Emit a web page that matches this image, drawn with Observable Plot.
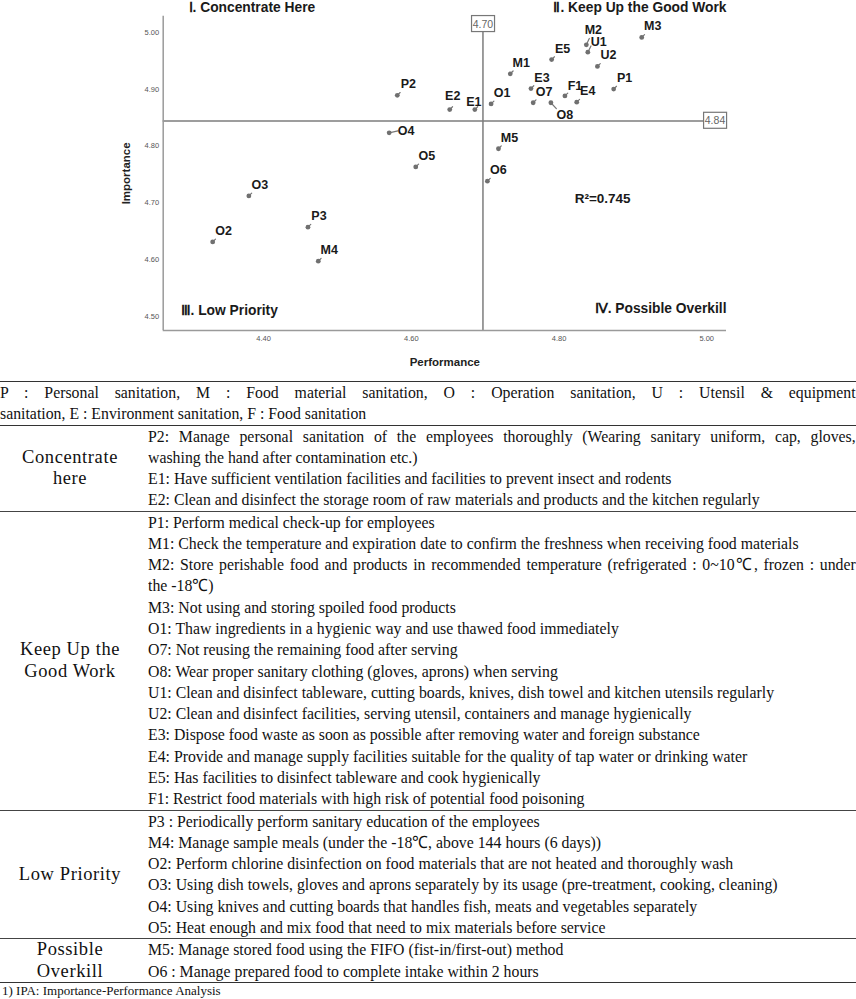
<!DOCTYPE html>
<html>
<head>
<meta charset="utf-8">
<script src="https://cdn.jsdelivr.net/npm/d3@7"></script>
<script src="https://cdn.jsdelivr.net/npm/@observablehq/plot@0.6"></script>
<style>
  html, body { margin: 0; padding: 0; background: #fff; overflow: hidden; }
  #chart svg { display: block; }
  #tbl { width: 856px; margin-top: 9px; font-family: "Liberation Serif", "Times New Roman", serif; font-size: 17px; line-height: 21.28px; color: #111; border-top: 1.5px solid #333; }
  .legend { padding: 1px 0 0.5px; line-height: 20.5px; border-bottom: 1px solid #333; overflow: hidden; }
  .legend .sx { width: 920px; transform: scaleX(0.93); transform-origin: 0 0; }
  .just { text-align: justify; text-align-last: justify; }
  .grp { display: flex; border-bottom: 1px solid #444; overflow: hidden; }
  .grp.last { border-bottom: 1.5px solid #333; }
  .cat { width: 140px; flex: none; display: flex; align-items: center; justify-content: center; text-align: center; font-size: 18.5px; line-height: 21.28px; letter-spacing: 0.6px; }
  .items { width: 708px; flex: none; margin-left: 8px; }
  .items .sx { width: 761px; transform: scaleX(0.93); transform-origin: 0 0; }
  .foot { font-size: 13px; line-height: 14px; padding-left: 2px; padding-top: 1px; }
</style>
</head>
<body>
<div id="chart"></div>
<div id="tbl"></div>
<script>
// ---- chart data ----
const codes       = ["P1","P2","P3","M1","M2","M3","M4","M5","O1","O2","O3","O4","O5","O6","O7","O8","U1","U2","E1","E2","E3","E4","E5","F1"];
const performance = [4.874,4.581,4.460,4.734,4.837,4.912,4.474,4.718,4.708,4.331,4.380,4.570,4.606,4.703,4.765,4.789,4.839,4.852,4.686,4.652,4.762,4.824,4.790,4.808];
const importance  = [4.900,4.889,4.657,4.927,4.978,4.991,4.597,4.795,4.874,4.631,4.712,4.823,4.763,4.738,4.876,4.876,4.965,4.940,4.864,4.864,4.901,4.877,4.952,4.888];
const meanPerformance = 4.697;
const meanImportance = 4.844;
const meanPerformanceLabel = "4.70";
const meanImportanceLabel = "4.84";
const xTicks = [4.40, 4.60, 4.80, 5.00];
const yTicks = [4.50, 4.60, 4.70, 4.80, 4.90, 5.00];
const quadrantTitles = ["Ⅰ. Concentrate Here", "Ⅱ. Keep Up the Good Work", "Ⅲ. Low Priority", "Ⅳ. Possible Overkill"];
const rSquaredText = "R²=0.745";
const rSquaredPos = [4.859, 4.707];
const xTitle = "Performance";
const yTitle = "Importance";

// ---- table data ----
const legendLines = [
  "P : Personal sanitation, M : Food material sanitation, O : Operation sanitation, U : Utensil & equipment",
  "sanitation, E : Environment sanitation, F : Food sanitation"
];
const groupNames = [["Concentrate","here"], ["Keep Up the","Good Work"], ["Low Priority"], ["Possible","Overkill"]];
const concentrateItems = [
  ["P2: Manage personal sanitation of the employees thoroughly (Wearing sanitary uniform, cap, gloves,", "washing the hand after contamination etc.)"],
  ["E1: Have sufficient ventilation facilities and facilities to prevent insect and rodents"],
  ["E2: Clean and disinfect the storage room of raw materials and products and the kitchen regularly"]
];
const keepUpItems = [
  ["P1: Perform medical check-up for employees"],
  ["M1: Check the temperature and expiration date to confirm the freshness when receiving food materials"],
  ["M2: Store perishable food and products in recommended temperature (refrigerated : 0~10℃, frozen : under", "the -18℃)"],
  ["M3: Not using and storing spoiled food products"],
  ["O1: Thaw ingredients in a hygienic way and use thawed food immediately"],
  ["O7: Not reusing the remaining food after serving"],
  ["O8: Wear proper sanitary clothing (gloves, aprons) when serving"],
  ["U1: Clean and disinfect tableware, cutting boards, knives, dish towel and kitchen utensils regularly"],
  ["U2: Clean and disinfect facilities, serving utensil, containers and manage hygienically"],
  ["E3: Dispose food waste as soon as possible after removing water and foreign substance"],
  ["E4: Provide and manage supply facilities suitable for the quality of tap water or drinking water"],
  ["E5: Has facilities to disinfect tableware and cook hygienically"],
  ["F1: Restrict food materials with high risk of potential food poisoning"]
];
const lowPriorityItems = [
  ["P3 : Periodically perform sanitary education of the employees"],
  ["M4: Manage sample meals (under the -18℃, above 144 hours (6 days))"],
  ["O2: Perform chlorine disinfection on food materials that are not heated and thoroughly wash"],
  ["O3: Using dish towels, gloves and aprons separately by its usage (pre-treatment, cooking, cleaning)"],
  ["O4: Using knives and cutting boards that handles fish, meats and vegetables separately"],
  ["O5: Heat enough and mix food that need to mix materials before service"]
];
const overkillItems = [
  ["M5: Manage stored food using the FIFO (fist-in/first-out) method"],
  ["O6 : Manage prepared food to complete intake within 2 hours"]
];
const footnote = "1) IPA: Importance-Performance Analysis";

// ---- build chart ----
const rows = codes.map((c, i) => ({code: c, perf: performance[i], imp: importance[i]}));
const xDomain = [4.264, 5.0268];
const yDomain = [4.475, 5.0284];

const labelNudge = {E2: [3, -14], E1: [-1, -8], O4: [17, -2], M2: [7, -15], O8: [14, 12], F1: [10, -10], U1: [11, -10]};
const defaultNudge = [11, -11];
const leaderSpec = {O4: [9, 77], U1: [7, 27], O8: [8, 137], M2: [7, 25]};
const leader = {draw(ctx, l) { ctx.moveTo(0, 0); ctx.lineTo(0, -l); }};

const nudgeGroups = d3.groups(rows, d => (labelNudge[d.code] || defaultNudge).join(","));
const labelMarks = nudgeGroups.map(([key, arr]) => {
  const [dx, dy] = key.split(",").map(Number);
  return Plot.text(arr, {x: "perf", y: "imp", text: "code", dx, dy, textAnchor: "middle", lineAnchor: "middle",
    fontSize: 12.5, fontWeight: "bold", fill: "#1a1a1a", fontFamily: "Liberation Sans, Arial, sans-serif"});
});
const leaderMarks = rows.map(d => {
  const [len, rot] = leaderSpec[d.code] || [4, 45];
  return Plot.vector([d], {x: "perf", y: "imp", length: len, rotate: rot, anchor: "start", shape: leader, stroke: "#777", strokeWidth: 1.2});
});

const titleFont = {fontSize: 13.8, fontWeight: "bold", fill: "#1a1a1a", fontFamily: "Liberation Sans, Arial, sans-serif", lineAnchor: "middle"};
const boxFont = 10.5;

const chart = Plot.plot({
  width: 856, height: 372,
  marginLeft: 162.7, marginRight: 130, marginTop: 15.7, marginBottom: 42,
  x: {domain: xDomain},
  y: {domain: yDomain},
  style: {fontFamily: "Liberation Sans, Arial, sans-serif", background: "#fff"},
  marks: [
    Plot.axisX({ticks: xTicks, tickFormat: d3.format(".2f"), tickSize: 0, tickPadding: 5, fontSize: 7.5, fill: "#555", label: null}),
    Plot.axisY({ticks: yTicks, tickFormat: d3.format(".2f"), tickSize: 0, tickPadding: 4, fontSize: 7.5, fill: "#555", label: null}),
    Plot.ruleX([meanPerformance], {stroke: "#7d7d7d", strokeWidth: 1.5}),
    Plot.ruleY([meanImportance], {stroke: "#7d7d7d", strokeWidth: 1.5}),
    Plot.ruleX([xDomain[0]], {stroke: "#9a9a9a", strokeWidth: 1.5}),
    Plot.ruleY([yDomain[0]], {stroke: "#9a9a9a", strokeWidth: 1.5}),
    ...leaderMarks,
    Plot.dot(rows, {x: "perf", y: "imp", r: 2.4, fill: "#707070"}),
    ...labelMarks,
    Plot.text([meanPerformanceLabel], {x: () => meanPerformance, text: d => d, frameAnchor: "top", dy: 8, textAnchor: "middle", lineAnchor: "middle", fontSize: boxFont, fill: "#666", className: "mean-box"}),
    Plot.text([meanImportanceLabel], {y: () => meanImportance, text: d => d, frameAnchor: "right", dx: -11.5, textAnchor: "middle", lineAnchor: "middle", fontSize: boxFont, fill: "#666", className: "mean-box"}),
    Plot.text([quadrantTitles[0]], {text: d => d, frameAnchor: "top-left", dx: 25.3, dy: -8.7, textAnchor: "start", ...titleFont}),
    Plot.text([quadrantTitles[1]], {text: d => d, frameAnchor: "top-right", dx: 0, dy: -8.7, textAnchor: "end", ...titleFont}),
    Plot.text([quadrantTitles[2]], {text: d => d, frameAnchor: "bottom-left", dx: 17.3, dy: -20, textAnchor: "start", ...titleFont}),
    Plot.text([quadrantTitles[3]], {text: d => d, frameAnchor: "bottom-right", dx: 0, dy: -22, textAnchor: "end", ...titleFont}),
    Plot.text([rSquaredText], {x: () => rSquaredPos[0], y: () => rSquaredPos[1], text: d => d, textAnchor: "middle", ...titleFont, fontSize: 13.5}),
    Plot.text([yTitle], {text: d => d, frameAnchor: "left", dx: -36.7, rotate: -90, textAnchor: "middle", lineAnchor: "middle", fontSize: 11.5, fontWeight: "bold", fill: "#222"}),
    Plot.text([xTitle], {text: d => d, frameAnchor: "bottom", dy: 31.7, textAnchor: "middle", lineAnchor: "middle", fontSize: 11.5, fontWeight: "bold", fill: "#222"})
  ]
});
document.getElementById("chart").appendChild(chart);

// boxes around mean labels
let boxTexts = chart.querySelectorAll("g.mean-box text");
if (!boxTexts.length) boxTexts = chart.querySelectorAll(`g[font-size="${boxFont}"] text`);
boxTexts.forEach(t => {
  const b = t.getBBox();
  const w = 23, h = 16;
  const r = document.createElementNS("http://www.w3.org/2000/svg", "rect");
  r.setAttribute("x", b.x + b.width / 2 - w / 2);
  r.setAttribute("y", b.y + b.height / 2 - h / 2);
  r.setAttribute("width", w);
  r.setAttribute("height", h);
  r.setAttribute("fill", "#fff");
  r.setAttribute("stroke", "#777");
  r.setAttribute("stroke-width", "1.2");
  if (t.getAttribute("transform")) r.setAttribute("transform", t.getAttribute("transform"));
  t.parentNode.insertBefore(r, t);
});

// ---- build table ----
const tbl = document.getElementById("tbl");
const esc = s => s.replace(/&/g, "&amp;").replace(/</g, "&lt;");
const linesHTML = lines => lines.map((ln, i) => `<div class="${i < lines.length - 1 ? "just" : ""}">${esc(ln)}</div>`).join("");
let html = `<div class="legend"><div class="sx">${linesHTML(legendLines)}</div></div>`;
const groupItems = [concentrateItems, keepUpItems, lowPriorityItems, overkillItems];
groupNames.forEach((name, gi) => {
  html += `<div class="grp${gi === groupNames.length - 1 ? " last" : ""}"><div class="cat"><div>${name.map(esc).join("<br>")}</div></div><div class="items"><div class="sx">${groupItems[gi].map(linesHTML).join("")}</div></div></div>`;
});
html += `<div class="foot">${esc(footnote)}</div>`;
tbl.innerHTML = html;
</script>
</body>
</html>
